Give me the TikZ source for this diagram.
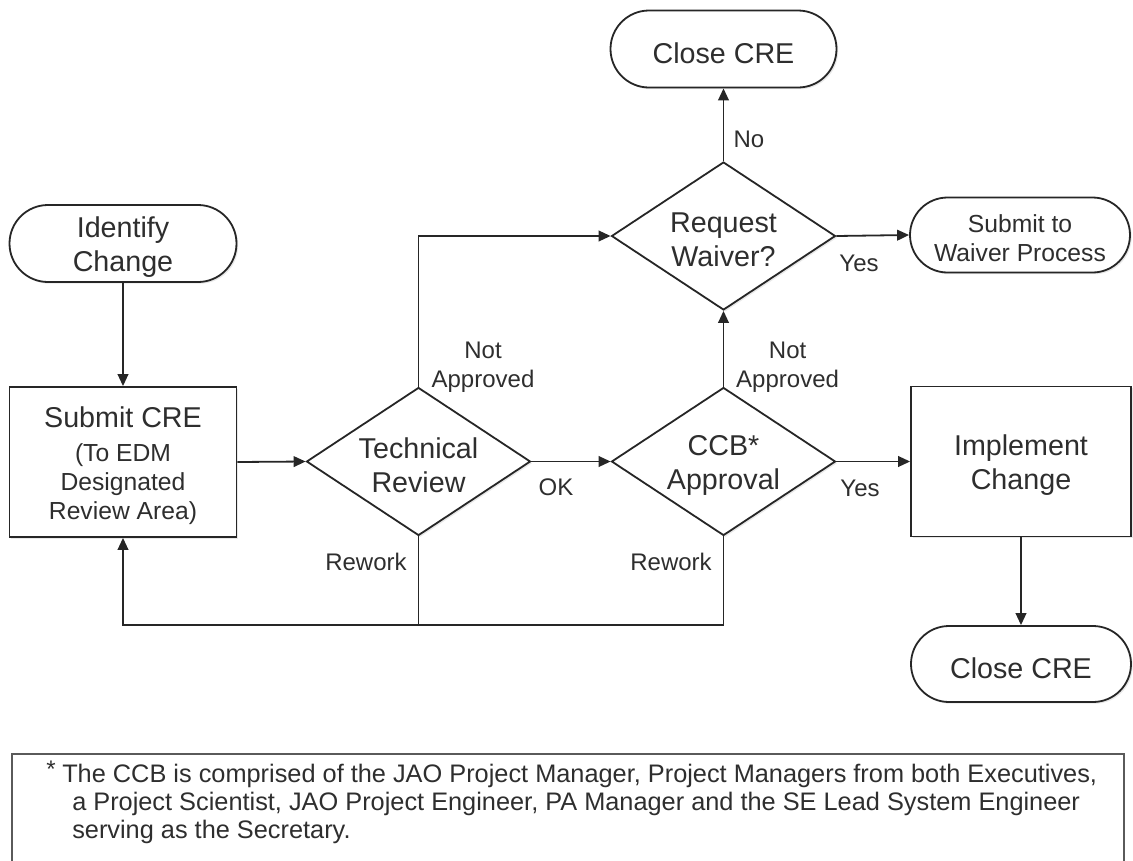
\documentclass[tikz,border=0pt]{standalone}
\usepackage{fontspec}
\setmainfont{Liberation Sans}
\usetikzlibrary{shapes.geometric,shapes.misc,arrows.meta,shadows}
\definecolor{lin}{HTML}{262626}
\definecolor{txt}{HTML}{2E2E2E}
\definecolor{fnline}{HTML}{5A5A5A}
\newcommand\fbig{\fontsize{21.5}{25.5}\selectfont}
\newcommand\fmid{\fontsize{18.5}{21.75}\selectfont}
\newcommand\fsm{\fontsize{18}{21.5}\selectfont}
\newcommand\ffn{\fontsize{19}{21}\selectfont}
\begin{document}
\begin{tikzpicture}[x=0.75pt,y=-0.75pt,
  ln/.style={draw=lin, line width=1.35pt},
  arr/.style={ln, -{Triangle[length=9pt,width=8pt]}},
  shd/.style={drop shadow={opacity=0.18,shadow xshift=1.3pt,shadow yshift=-1.3pt}},
  term/.style={rounded rectangle, ln, fill=white, shd, inner sep=0pt},
  procbox/.style={rectangle, ln, fill=white, shd, inner sep=0pt, minimum height=112.5pt},
  dia/.style={diamond, ln, fill=white, shd, inner sep=0pt, minimum width=168pt, minimum height=111pt},
  dtext/.style={align=center, text=txt, font=\fbig, yshift=-3pt},
  mtext/.style={align=center, text=txt, font=\fmid, yshift=-2.5pt},
  lbl/.style={align=center, text=txt, font=\fsm, inner sep=0pt},
  fn/.style={anchor=base west, text=txt, font=\ffn, inner sep=0pt}
]
\useasboundingbox (0,0) rectangle (1133,861);

% terminals
\node[term, minimum width=170.25pt, minimum height=57.75pt,
  label={[dtext]center:{Identify\\Change}}] (idc) at (123,243.5) {};
\node[term, minimum width=169.5pt, minimum height=57.75pt,
  label={[dtext]center:{Close CRE}}] (cc1) at (723.5,49) {};
\node[term, minimum width=165pt, minimum height=56.25pt,
  label={[mtext]center:{Submit to\\Waiver Process}}] (stw) at (1020,235) {};
\node[term, minimum width=165pt, minimum height=57pt,
  label={[dtext]center:{Close CRE}}] (cc2) at (1021,664) {};

% process boxes
\node[procbox, minimum width=170.25pt,
  label={[dtext, yshift=-1pt]center:{Submit CRE\\\fmid\begin{tabular}[t]{@{}c@{}}(To EDM\\Designated\\Review Area)\end{tabular}}}] (sub) at (123,462) {};
\node[procbox, minimum width=165pt,
  label={[dtext]center:{Implement\\Change}}] (imp) at (1021,461.5) {};

% decisions
\node[dia, label={[dtext]center:{Technical\\Review}}] (tr) at (418.5,461.5) {};
\node[dia, label={[dtext]center:{CCB*\\Approval}}] (ccb) at (723.5,461.5) {};
\node[dia, label={[dtext]center:{Request\\Waiver?}}] (rw) at (723.5,236) {};

% connectors
\coordinate (fb) at (723.5,625);
\draw[arr] (idc.south) -- (sub.north);
\draw[arr] (sub.east) -- (tr.west);
\draw[arr] (tr.east) -- (ccb.west);
\draw[arr] (ccb.east) -- (imp.west);
\draw[arr] (imp.south) -- (cc2.north);
\draw[arr] (ccb.north) -- (rw.south);
\draw[arr] (rw.north) -- (cc1.south);
\draw[arr] (rw.east) -- (stw.west);
\draw[arr] (tr.north) |- (rw.west);
\draw[arr] (ccb.south) |- (sub.south |- fb) -- (sub.south);
\draw[ln] (tr.south) -- (tr.south |- fb);

% labels
\node[lbl] (l1) at (483,367) {Not\\Approved};
\node[lbl] (l2) at (787.6,367) {Not\\Approved};
\node[lbl] (l3) at (556,487) {OK};
\node[lbl] (l4) at (366,562) {Rework};
\node[lbl] (l5) at (671,562) {Rework};
\node[lbl] (l6) at (859,263) {Yes};
\node[lbl] (l7) at (860,488) {Yes};
\node[lbl] (l8) at (749,139) {No};

% footnote box
\draw[draw=fnline, line width=1.2pt] (12,870) -- (12,754) -- (1124,754) -- (1124,870);
\node[fn, font=\fsm] (star) at (46,777) {*};
\node[fn] (fn1) at (62,782) {The CCB is comprised of the JAO Project Manager, Project Managers from both Executives,};
\node[fn] (fn2) at (72,810) {a Project Scientist, JAO Project Engineer, PA Manager and the SE Lead System Engineer};
\node[fn] (fn3) at (72,838) {serving as the Secretary.};
\end{tikzpicture}
\end{document}
